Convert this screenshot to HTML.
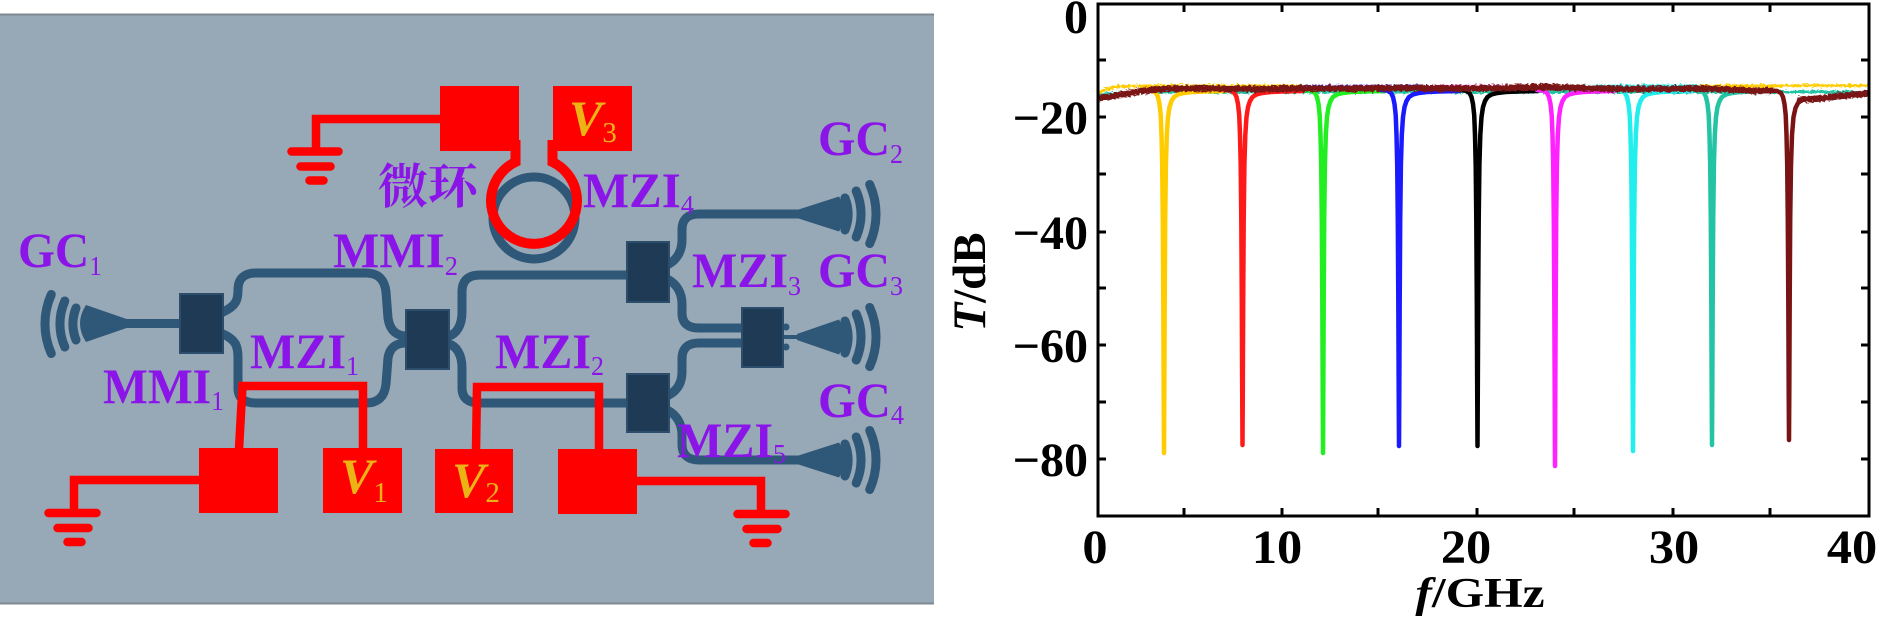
<!DOCTYPE html>
<html><head><meta charset="utf-8"><style>
html,body{margin:0;padding:0;background:#fff;}
body{width:1890px;height:620px;overflow:hidden;}
svg{display:block;}
svg text{font-family:"Liberation Serif","Times New Roman",serif;}
svg text.cjk{font-family:"Liberation Serif","Noto Serif CJK SC","Noto Sans CJK SC",serif;font-weight:bold;}
</style></head><body>
<svg width="1890" height="620" viewBox="0 0 1890 620" xmlns="http://www.w3.org/2000/svg">
<defs>
<filter id="jit" filterUnits="userSpaceOnUse" x="1090" y="60" width="790" height="60">
<feTurbulence type="fractalNoise" baseFrequency="0.35 0.6" numOctaves="2" seed="7" result="t"/>
<feDisplacementMap in="SourceGraphic" in2="t" scale="5" xChannelSelector="R" yChannelSelector="G"/>
</filter>
<clipPath id="pc"><rect x="1099.5" y="5.5" width="768" height="509"/></clipPath>
</defs>

<!-- LEFT PANEL -->
<rect x="0" y="14" width="934" height="590" fill="#97a8b6"/>
<line x1="0" y1="14.5" x2="934" y2="14.5" stroke="#7e8992" stroke-width="2"/>
<line x1="0" y1="603.5" x2="934" y2="603.5" stroke="#7e8992" stroke-width="2"/>

<!-- waveguides -->
<g stroke="#2f5778" stroke-width="9" fill="none" stroke-linecap="round">
<path d="M120,323.5 L182,323.5"/>
<path d="M223,312 C236,306 238,300 238,290 Q238,273 256,273 L366,273 Q384,273 386,292 L388,318 C390,332 398,336 406,336"/>
<path d="M223,334 C236,340 238,346 238,358 L238,388 Q238,403 256,403 L366,403 Q384,403 386,384 L388,358 C390,346 398,343 406,343"/>
<path d="M449,336 C456,334 462,326 462,312 L462,292 Q462,275 480,275 L628,275"/>
<path d="M449,344 C456,346 462,354 462,368 L462,388 Q462,403 480,403 L628,403"/>
<path d="M669,264 C676,260 682,252 682,240 L682,230 Q682,214 699,214 L800,214"/>
<path d="M669,280 C676,284 682,292 682,304 L682,313 Q682,328 699,328 L742,328"/>
<path d="M669,395 C676,391 682,384 682,372 L682,359 Q682,343 699,343 L742,343"/>
<path d="M669,411 C676,415 682,423 682,435 L682,444 Q682,460 699,460 L800,460"/>
<circle cx="534" cy="218" r="41"/>
</g>
<path d="M783,337 L800,337" stroke="#2f5778" stroke-width="4"/>
<!-- tapers -->
<g fill="#2f5778">
<path d="M128,319.5 L86,305 Q74,323.5 86,342 L128,327.5 Z"/>
<path d="M797,210 L839,196.5 Q851,214 839,231.5 L797,218 Z"/>
<path d="M797,334 L839,319.5 Q851,337 839,354.5 L797,340 Z"/>
<path d="M797,456 L839,442.5 Q851,460 839,477.5 L797,464 Z"/>
<circle cx="786" cy="327" r="3.5"/><circle cx="786" cy="347" r="3.5"/>
</g>
<!-- grating arcs -->
<g stroke="#2f5778" stroke-width="9" fill="none" stroke-linecap="round">
<path d="M76,308 A44,44 0 0,0 76,340"/>
<path d="M64.8,301 A57,57 0 0,0 64.8,347"/>
<path d="M51.3,294.5 A72,72 0 0,0 51.3,353.5"/>
<path d="M845,198 A44,44 0 0,1 845,230"/>
<path d="M856.2,191 A57,57 0 0,1 856.2,237"/>
<path d="M869.7,184.5 A72,72 0 0,1 869.7,243.5"/>
<path d="M845,321 A44,44 0 0,1 845,353"/>
<path d="M856.2,314 A57,57 0 0,1 856.2,360"/>
<path d="M869.7,307.5 A72,72 0 0,1 869.7,366.5"/>
<path d="M845,444 A44,44 0 0,1 845,476"/>
<path d="M856.2,437 A57,57 0 0,1 856.2,483"/>
<path d="M869.7,430.5 A72,72 0 0,1 869.7,489.5"/>
</g>
<!-- MMI boxes -->
<g fill="#1f3a54" stroke="#2c4d6b" stroke-width="2">
<rect x="180" y="294" width="43" height="59"/>
<rect x="406" y="310" width="43" height="59"/>
<rect x="627" y="242" width="42" height="60"/>
<rect x="627" y="374" width="42" height="58"/>
<rect x="742" y="308" width="41" height="59"/>
</g>

<!-- RED electrodes -->
<g fill="#ff0000">
<rect x="440" y="86" width="79" height="65"/>
<rect x="553" y="86" width="79" height="65"/>
<rect x="199" y="448" width="79" height="65"/>
<rect x="323" y="448" width="79" height="65"/>
<rect x="435" y="449" width="78" height="64"/>
<rect x="558" y="449" width="79" height="65"/>
</g>
<g stroke="#ff0000" fill="none" stroke-width="8.5">
<path d="M441,119 L316,119 L316,151"/>
<path d="M515.5,140 L515.5,162 A43,43 0 1,0 552.5,162 L552.5,140" stroke-width="10"/>
<path d="M239,449 L242.5,386 L363,386 L363,449"/>
<path d="M476,450 L477,387 L599,387 L599,450"/>
<path d="M200,480 L74,480 L74,513"/>
<path d="M636,481 L761,481 L761,514"/>
</g>
<g stroke="#ff0000" stroke-width="8.5" stroke-linecap="round">
<line x1="291.5" y1="151.5" x2="338.5" y2="151.5"/>
<line x1="300.5" y1="166.5" x2="330.5" y2="166.5"/>
<line x1="309.5" y1="180.5" x2="323.5" y2="180.5"/>
<line x1="48.5" y1="513" x2="96.5" y2="513"/>
<line x1="57.5" y1="528" x2="88.5" y2="528"/>
<line x1="67.5" y1="542" x2="81.5" y2="542"/>
<line x1="737.5" y1="514" x2="785.5" y2="514"/>
<line x1="746.5" y1="529" x2="777.5" y2="529"/>
<line x1="753.5" y1="543" x2="767.5" y2="543"/>
</g>

<!-- purple labels -->
<g font-weight="bold" font-size="50" fill="#8b14e8">
<text x="18" y="267" textLength="84" lengthAdjust="spacingAndGlyphs">GC<tspan font-size="27" font-weight="normal" dy="8">1</tspan></text>
<text x="333" y="267" textLength="125" lengthAdjust="spacingAndGlyphs">MMI<tspan font-size="27" font-weight="normal" dy="8">2</tspan></text>
<text x="583" y="207" textLength="111" lengthAdjust="spacingAndGlyphs">MZI<tspan font-size="27" font-weight="normal" dy="7">4</tspan></text>
<text x="818" y="155" textLength="85" lengthAdjust="spacingAndGlyphs">GC<tspan font-size="27" font-weight="normal" dy="8">2</tspan></text>
<text x="692" y="287" textLength="109" lengthAdjust="spacingAndGlyphs">MZI<tspan font-size="27" font-weight="normal" dy="8">3</tspan></text>
<text x="818" y="287" textLength="85" lengthAdjust="spacingAndGlyphs">GC<tspan font-size="27" font-weight="normal" dy="8">3</tspan></text>
<text x="818" y="417" textLength="86" lengthAdjust="spacingAndGlyphs">GC<tspan font-size="27" font-weight="normal" dy="7">4</tspan></text>
<text x="677" y="457" textLength="109" lengthAdjust="spacingAndGlyphs">MZI<tspan font-size="27" font-weight="normal" dy="6">5</tspan></text>
<text x="495" y="368" textLength="109" lengthAdjust="spacingAndGlyphs">MZI<tspan font-size="27" font-weight="normal" dy="7">2</tspan></text>
<text x="250" y="368" textLength="109" lengthAdjust="spacingAndGlyphs">MZI<tspan font-size="27" font-weight="normal" dy="7">1</tspan></text>
<text x="103" y="403" textLength="121" lengthAdjust="spacingAndGlyphs">MMI<tspan font-size="27" font-weight="normal" dy="7">1</tspan></text>
<text class="cjk" x="378" y="203" font-size="48" textLength="100" lengthAdjust="spacingAndGlyphs">微环</text>
</g>
<!-- V labels -->
<g fill="#ebb414">
<text x="569" y="135" font-size="50" font-weight="bold" font-style="italic">V<tspan font-size="29" font-weight="normal" font-style="normal" dy="7">3</tspan></text>
<text x="340" y="493" font-size="50" font-weight="bold" font-style="italic">V<tspan font-size="29" font-weight="normal" font-style="normal" dy="9">1</tspan></text>
<text x="452" y="497" font-size="50" font-weight="bold" font-style="italic">V<tspan font-size="29" font-weight="normal" font-style="normal" dy="5">2</tspan></text>
</g>

<!-- RIGHT CHART -->
<g clip-path="url(#pc)">
<g filter="url(#jit)" fill="none" stroke-width="3" stroke-linecap="round">
<path d="M1099,93 L1106,89 L1118,86.5 L1140,86 L1300,86" stroke="#ffcc00"/>
<path d="M1300,86.5 L1420,86" stroke="#2a2aff"/>
<path d="M1420,86.5 L1560,86" stroke="#ff22ff"/>
<path d="M1560,86.5 L1700,86" stroke="#22e8e8"/>
<path d="M1700,86 L1868,85.5" stroke="#ffcc00"/>
<path d="M1099,95 L1130,92 L1868,92" stroke="#22c4a4" stroke-width="3"/>
</g>
<g fill="none" stroke-width="4.5" stroke-linecap="round" stroke-linejoin="round">
<path transform="translate(1164,0)" stroke="#ffcc00" d="M-18,90 L-12,90.5 L-8,93 L-6,97 L-4.5,104 L-3.3,115 L-2.5,135 L-1.8,165 L-1.2,220 L-0.7,300 L-0.3,390 L0,453 L0.3,390 L0.7,300 L1.2,220 L1.9,165 L2.8,135 L4,117 L5.5,107 L7.5,101 L10,97 L14,94.5 L20,93 L28,92 L40,91.5 L60,91"/>
<path transform="translate(1242.5,0)" stroke="#ff1a1a" d="M-18,90 L-12,90.5 L-8,93 L-6,97 L-4.5,104 L-3.3,115 L-2.5,135 L-1.8,165 L-1.2,220 L-0.7,300 L-0.3,390 L0,445 L0.3,390 L0.7,300 L1.2,220 L1.9,165 L2.8,135 L4,117 L5.5,107 L7.5,101 L10,97 L14,94.5 L20,93 L28,92 L40,91.5 L60,91"/>
<path transform="translate(1323,0)" stroke="#22ee22" d="M-18,90 L-12,90.5 L-8,93 L-6,97 L-4.5,104 L-3.3,115 L-2.5,135 L-1.8,165 L-1.2,220 L-0.7,300 L-0.3,390 L0,453 L0.3,390 L0.7,300 L1.2,220 L1.9,165 L2.8,135 L4,117 L5.5,107 L7.5,101 L10,97 L14,94.5 L20,93 L28,92 L40,91.5 L60,91"/>
<path transform="translate(1399,0)" stroke="#1a1aff" d="M-18,90 L-12,90.5 L-8,93 L-6,97 L-4.5,104 L-3.3,115 L-2.5,135 L-1.8,165 L-1.2,220 L-0.7,300 L-0.3,390 L0,446 L0.3,390 L0.7,300 L1.2,220 L1.9,165 L2.8,135 L4,117 L5.5,107 L7.5,101 L10,97 L14,94.5 L20,93 L28,92 L40,91.5 L60,91"/>
<path transform="translate(1477.5,0)" stroke="#000000" d="M-18,90 L-12,90.5 L-8,93 L-6,97 L-4.5,104 L-3.3,115 L-2.5,135 L-1.8,165 L-1.2,220 L-0.7,300 L-0.3,390 L0,446 L0.3,390 L0.7,300 L1.2,220 L1.9,165 L2.8,135 L4,117 L5.5,107 L7.5,101 L10,97 L14,94.5 L20,93 L28,92 L40,91.5 L60,91"/>
<path transform="translate(1555,0)" stroke="#ff22ff" d="M-18,90 L-12,90.5 L-8,93 L-6,97 L-4.5,104 L-3.3,115 L-2.5,135 L-1.8,165 L-1.2,220 L-0.7,300 L-0.3,390 L0,466 L0.3,390 L0.7,300 L1.2,220 L1.9,165 L2.8,135 L4,117 L5.5,107 L7.5,101 L10,97 L14,94.5 L20,93 L28,92 L40,91.5 L60,91"/>
<path transform="translate(1633,0)" stroke="#22eeee" d="M-18,90 L-12,90.5 L-8,93 L-6,97 L-4.5,104 L-3.3,115 L-2.5,135 L-1.8,165 L-1.2,220 L-0.7,300 L-0.3,390 L0,451 L0.3,390 L0.7,300 L1.2,220 L1.9,165 L2.8,135 L4,117 L5.5,107 L7.5,101 L10,97 L14,94.5 L20,93 L28,92 L40,91.5 L60,91"/>
<path transform="translate(1712,0)" stroke="#22c4a4" d="M-18,90 L-12,90.5 L-8,93 L-6,97 L-4.5,104 L-3.3,115 L-2.5,135 L-1.8,165 L-1.2,220 L-0.7,300 L-0.3,390 L0,445 L0.3,390 L0.7,300 L1.2,220 L1.9,165 L2.8,135 L4,117 L5.5,107 L7.5,101 L10,97 L14,94.5 L20,93 L28,92 L40,91.5 L60,91"/>
</g>
<g filter="url(#jit)" fill="none" stroke="#7a1414" stroke-width="6.5" stroke-linecap="round" stroke-linejoin="round">
<path d="M1098,98 L1108,97 L1118,95 L1130,93 L1142,91 L1155,89.5 L1175,88.5 L1210,88.5 L1260,89 L1300,88.5 L1350,88.5 L1400,88 L1450,88.5 L1500,88 L1520,87.5 L1545,87 L1580,88 L1620,89 L1660,89 L1700,88.5 L1730,89.5 L1755,91 L1771,90.5"/>
<path d="M1800,99.5 L1820,98.5 L1840,96 L1868,93.5"/>
</g>
<path transform="translate(1789,0)" fill="none" stroke="#7a1414" stroke-width="4.5" stroke-linecap="round" stroke-linejoin="round" d="M-18,90.5 L-12,91 L-8,93 L-6,97 L-4.5,104 L-3.3,115 L-2.5,135 L-1.8,165 L-1.2,220 L-0.7,300 L-0.3,390 L0,440 L0.3,390 L0.7,300 L1.2,220 L2,165 L3,135 L4.5,117 L6.5,108 L9,103 L13,100 L20,98.5 L30,97.5"/>
</g>

<!-- axes frame -->
<rect x="1098" y="4" width="771" height="512" fill="none" stroke="#000" stroke-width="3"/>
<path stroke="#000" stroke-width="3" fill="none" d="
M1098,60 h8 M1098,117 h8 M1098,174 h8 M1098,232 h8 M1098,288 h8 M1098,345 h8 M1098,402 h8 M1098,459 h8
M1869,60 h-8 M1869,117 h-8 M1869,174 h-8 M1869,232 h-8 M1869,288 h-8 M1869,345 h-8 M1869,402 h-8 M1869,459 h-8
M1184,4 v8 M1282,4 v8 M1378,4 v8 M1477,4 v8 M1574,4 v8 M1673,4 v8 M1770,4 v8
M1184,516 v-8 M1282,516 v-8 M1378,516 v-8 M1477,516 v-8 M1574,516 v-8 M1673,516 v-8 M1770,516 v-8"/>

<!-- tick labels -->
<g font-weight="bold" font-size="48" fill="#000">
<text transform="translate(1088,33)" text-anchor="end">0</text>
<text transform="translate(1088,134)" text-anchor="end">−20</text>
<text transform="translate(1088,249)" text-anchor="end">−40</text>
<text transform="translate(1088,362)" text-anchor="end">−60</text>
<text transform="translate(1088,476)" text-anchor="end">−80</text>
<text transform="translate(1095,563) scale(1.05,1)" text-anchor="middle">0</text>
<text transform="translate(1277,563) scale(1.05,1)" text-anchor="middle">10</text>
<text transform="translate(1466,563) scale(1.05,1)" text-anchor="middle">20</text>
<text transform="translate(1674,563) scale(1.05,1)" text-anchor="middle">30</text>
<text transform="translate(1852,563) scale(1.05,1)" text-anchor="middle">40</text>
<text transform="translate(1480,607) scale(1.18,1)" text-anchor="middle" font-size="42"><tspan font-style="italic">f</tspan>/GHz</text>
<text transform="translate(985,282) rotate(-90)" text-anchor="middle" font-size="47"><tspan font-style="italic">T</tspan>/dB</text>
</g>
</svg>
</body></html>
